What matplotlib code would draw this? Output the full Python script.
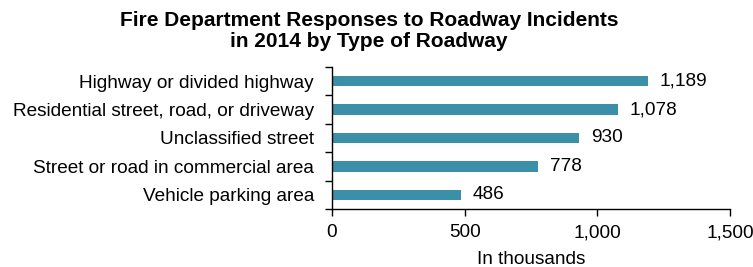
import matplotlib
matplotlib.use("Agg")
import matplotlib.pyplot as plt
import numpy as np

categories = ["Highway or divided highway",
              "Residential street, road, or driveway",
              "Unclassified street",
              "Street or road in commercial area",
              "Vehicle parking area"]
values = [1189, 1078, 930, 778, 486]
value_labels = ["1,189", "1,078", "930", "778", "486"]
xticks = [0, 500, 1000, 1500]
xtick_labels = ["0", "500", "1,000", "1,500"]

plt.rcParams['font.family'] = ['Liberation Sans', 'DejaVu Sans']

fs = 13.7
fig = plt.figure(figsize=(7.53, 2.67), dpi=100)
ax = fig.add_axes([0.4409, 0.2172, 0.5286, 0.532])

n = len(categories)
y = np.arange(n)[::-1]
color = "#3B8FA6"
ax.barh(y, values, height=0.36, color=color)
for yi, v, lab in zip(y, values, value_labels):
    ax.text(v + 45, yi, lab, va='center', ha='left', fontsize=fs)

ax.set_ylim(-0.5, n - 0.5)
ax.set_xlim(0, 1500)
ax.set_yticks(y)
ax.set_yticklabels(categories, fontsize=fs)
ax.tick_params(axis='y', which='major', length=0, pad=13)
ax.set_yticks(np.arange(-0.5, n, 1.0), minor=True)
ax.tick_params(axis='y', which='minor', length=5, width=1, direction='out')
ax.set_xticks(xticks)
ax.set_xticklabels(xtick_labels, fontsize=fs)
ax.tick_params(axis='x', length=5, width=1, direction='out', pad=6)
ax.set_xlabel("In thousands", fontsize=fs, labelpad=7)

for s in ['top', 'right']:
    ax.spines[s].set_visible(False)
ax.spines['left'].set_linewidth(1)
ax.spines['bottom'].set_linewidth(1)

fig.text(0.49, 0.96, "Fire Department Responses to Roadway Incidents\nin 2014 by Type of Roadway",
         ha='center', va='top', fontsize=15, fontweight='bold', linespacing=1.15)

fig.savefig("out.png", dpi=100)
